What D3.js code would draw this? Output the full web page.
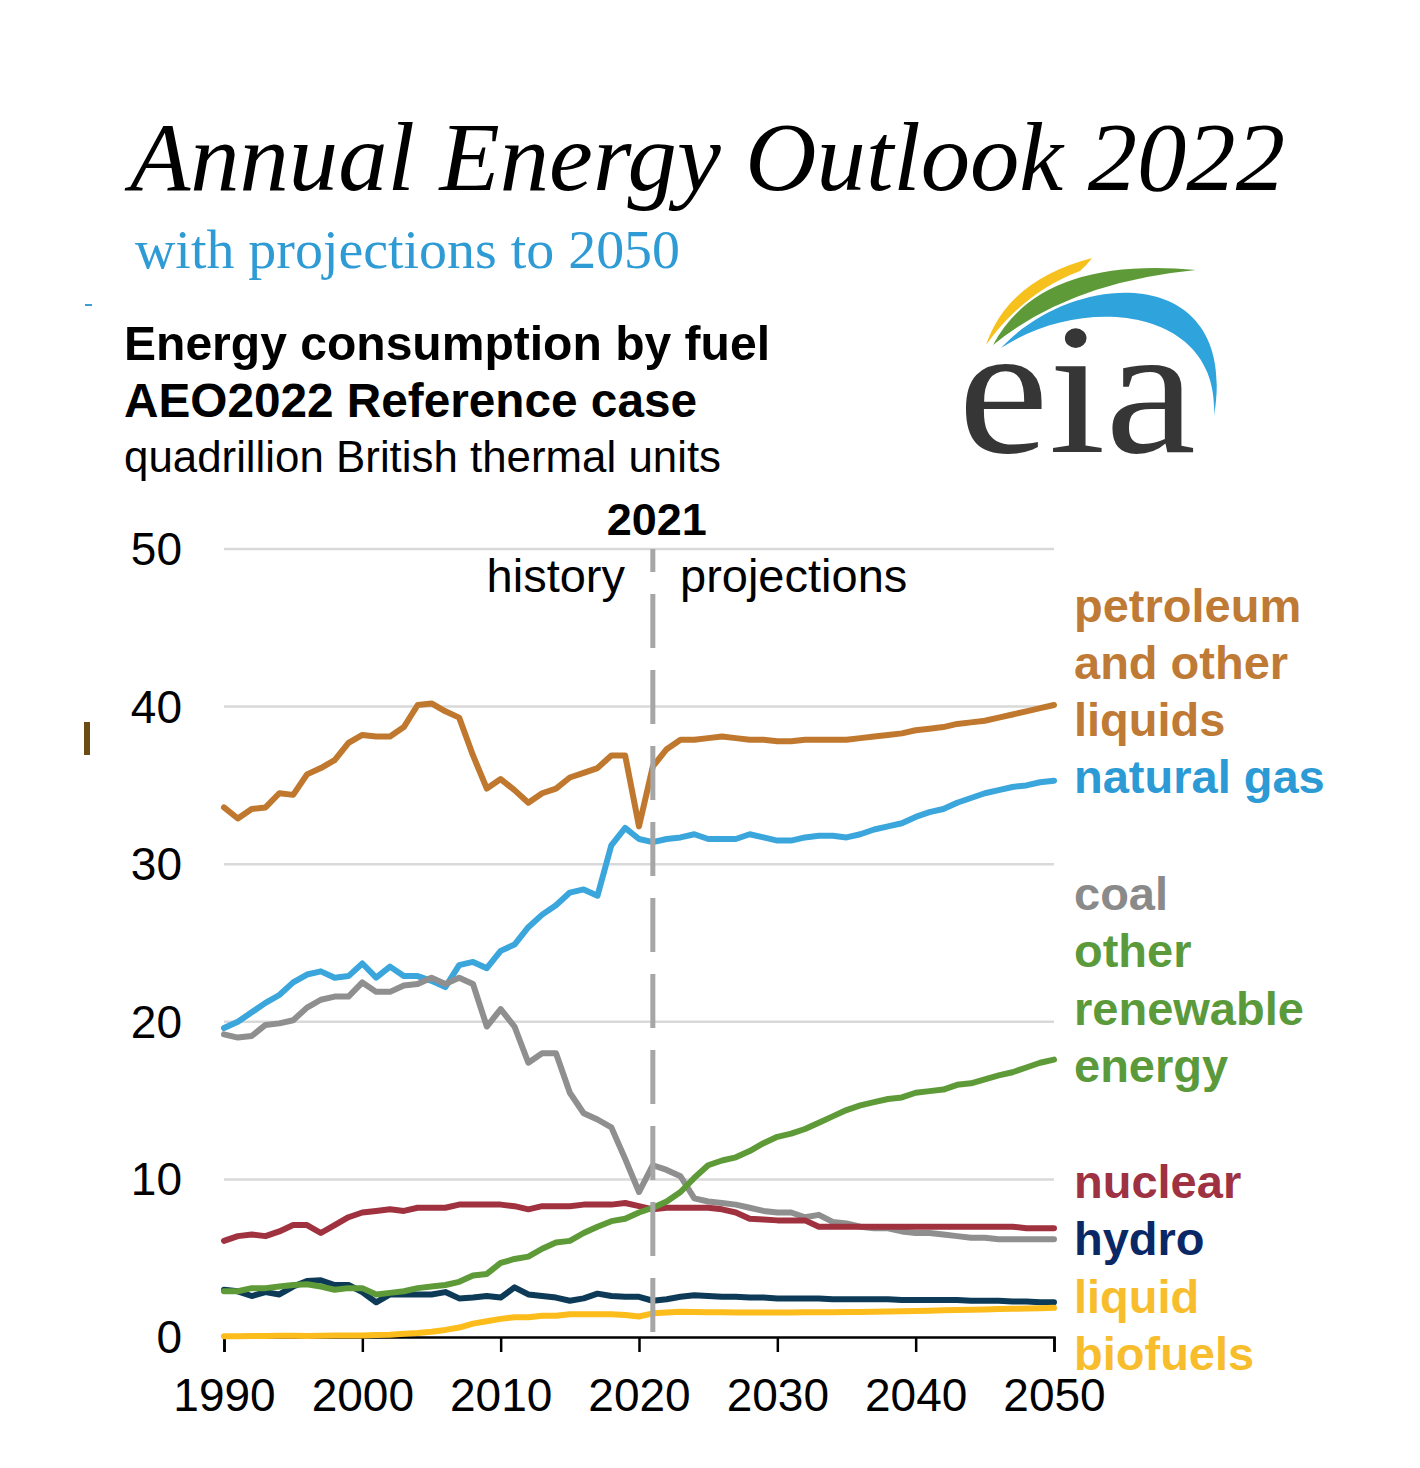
<!DOCTYPE html>
<html>
<head>
<meta charset="utf-8">
<script src="https://cdn.jsdelivr.net/npm/d3@7"></script>
<style>
  html, body { margin: 0; padding: 0; background: #ffffff; }
  svg { display: block; }
</style>
</head>
<body>
<div id="chart"></div>
<script>
// ---------------- DATA ----------------
const years = d3.range(1990, 2051);
const xTicks = [1990, 2000, 2010, 2020, 2030, 2040, 2050];
const yTicks = [0, 10, 20, 30, 40, 50];
const divideYear = 2021;

const petroleum = [33.6, 32.9, 33.5, 33.6, 34.5, 34.4, 35.7, 36.1, 36.6, 37.7, 38.2, 38.1, 38.1, 38.7, 40.1, 40.2, 39.7, 39.3, 36.9, 34.8, 35.4, 34.7, 33.9, 34.5, 34.8, 35.5, 35.8, 36.1, 36.9, 36.9, 32.4, 36.2,
  37.3, 37.9, 37.9, 38.0, 38.1, 38.0, 37.9, 37.9, 37.8, 37.8, 37.9, 37.9, 37.9, 37.9, 38.0, 38.1, 38.2, 38.3, 38.5, 38.6, 38.7, 38.9, 39.0, 39.1, 39.3, 39.5, 39.7, 39.9, 40.1];
const naturalGas = [19.6, 20.0, 20.6, 21.2, 21.7, 22.5, 23.0, 23.2, 22.8, 22.9, 23.7, 22.8, 23.5, 22.9, 22.9, 22.6, 22.2, 23.6, 23.8, 23.4, 24.5, 24.9, 26.0, 26.8, 27.4, 28.2, 28.4, 28.0, 31.2, 32.3, 31.6, 31.4,
  31.6, 31.7, 31.9, 31.6, 31.6, 31.6, 31.9, 31.7, 31.5, 31.5, 31.7, 31.8, 31.8, 31.7, 31.9, 32.2, 32.4, 32.6, 33.0, 33.3, 33.5, 33.9, 34.2, 34.5, 34.7, 34.9, 35.0, 35.2, 35.3];
const coal = [19.2, 19.0, 19.1, 19.8, 19.9, 20.1, 20.9, 21.4, 21.6, 21.6, 22.5, 21.9, 21.9, 22.3, 22.4, 22.8, 22.4, 22.8, 22.4, 19.7, 20.8, 19.7, 17.4, 18.0, 18.0, 15.5, 14.2, 13.8, 13.3, 11.3, 9.2, 10.9,
  10.6, 10.2, 8.8, 8.6, 8.5, 8.4, 8.2, 8.0, 7.9, 7.9, 7.6, 7.75, 7.3, 7.2, 7.0, 6.9, 6.9, 6.7, 6.6, 6.6, 6.5, 6.4, 6.3, 6.3, 6.2, 6.2, 6.2, 6.2, 6.2];
const otherRenewable = [2.9, 2.9, 3.1, 3.1, 3.2, 3.3, 3.35, 3.2, 3.0, 3.1, 3.1, 2.7, 2.8, 2.9, 3.1, 3.2, 3.3, 3.5, 3.9, 4.0, 4.7, 4.95, 5.1, 5.6, 6.0, 6.1, 6.6, 7.0, 7.35, 7.5, 7.9, 8.2,
  8.6, 9.2, 10.1, 10.9, 11.2, 11.4, 11.8, 12.3, 12.7, 12.9, 13.2, 13.6, 14.0, 14.4, 14.7, 14.9, 15.1, 15.2, 15.5, 15.6, 15.7, 16.0, 16.1, 16.35, 16.6, 16.8, 17.1, 17.4, 17.6];
const nuclear = [6.1, 6.4, 6.5, 6.4, 6.7, 7.1, 7.1, 6.6, 7.1, 7.6, 7.9, 8.0, 8.1, 8.0, 8.2, 8.2, 8.2, 8.4, 8.4, 8.4, 8.4, 8.3, 8.1, 8.3, 8.3, 8.3, 8.4, 8.4, 8.4, 8.5, 8.3, 8.1,
  8.2, 8.2, 8.2, 8.2, 8.1, 7.9, 7.5, 7.45, 7.4, 7.4, 7.4, 7.0, 7.0, 7.0, 7.0, 7.0, 7.0, 7.0, 7.0, 7.0, 7.0, 7.0, 7.0, 7.0, 7.0, 7.0, 6.9, 6.9, 6.9];
const hydro = [3.0, 2.9, 2.6, 2.85, 2.7, 3.2, 3.55, 3.6, 3.3, 3.3, 2.85, 2.2, 2.7, 2.7, 2.7, 2.7, 2.85, 2.45, 2.5, 2.6, 2.5, 3.15, 2.7, 2.6, 2.5, 2.3, 2.45, 2.75, 2.6, 2.55, 2.55, 2.3,
  2.4, 2.55, 2.65, 2.6, 2.55, 2.55, 2.5, 2.5, 2.45, 2.45, 2.45, 2.45, 2.4, 2.4, 2.4, 2.4, 2.4, 2.35, 2.35, 2.35, 2.35, 2.35, 2.3, 2.3, 2.3, 2.25, 2.25, 2.2, 2.2];
const liquidBiofuels = [0.05, 0.05, 0.06, 0.07, 0.08, 0.08, 0.07, 0.08, 0.09, 0.1, 0.1, 0.12, 0.15, 0.2, 0.25, 0.33, 0.45, 0.6, 0.85, 1.0, 1.15, 1.25, 1.25, 1.35, 1.35, 1.45, 1.45, 1.45, 1.45, 1.4, 1.3, 1.5,
  1.55, 1.6, 1.58, 1.57, 1.57, 1.56, 1.56, 1.56, 1.56, 1.56, 1.57, 1.57, 1.57, 1.58, 1.59, 1.6, 1.62, 1.63, 1.65, 1.67, 1.69, 1.71, 1.73, 1.75, 1.77, 1.79, 1.81, 1.83, 1.85];

const seriesNames = ["petroleum", "naturalGas", "coal", "nuclear", "hydro", "otherRenewable", "liquidBiofuels"];
const seriesValues = { petroleum, naturalGas, coal, nuclear, hydro, otherRenewable, liquidBiofuels };
const lineColors = {
  petroleum: "#c0782f", naturalGas: "#3aa6dc", coal: "#8f8f8f", nuclear: "#a0323f",
  hydro: "#0d3b57", otherRenewable: "#5e9b38", liquidBiofuels: "#fbbc1c"
};

const labelLines = [
  { text: "petroleum", color: "#bf7a35", y: 622 },
  { text: "and other", color: "#bf7a35", y: 679 },
  { text: "liquids", color: "#bf7a35", y: 736 },
  { text: "natural gas", color: "#2b9ad5", y: 793 },
  { text: "coal", color: "#8a8a8a", y: 910 },
  { text: "other", color: "#5b9a3b", y: 967 },
  { text: "renewable", color: "#5b9a3b", y: 1025 },
  { text: "energy", color: "#5b9a3b", y: 1082 },
  { text: "nuclear", color: "#9e3242", y: 1198 },
  { text: "hydro", color: "#0b2866", y: 1255 },
  { text: "liquid", color: "#f8bd2c", y: 1313 },
  { text: "biofuels", color: "#f8bd2c", y: 1370 }
];

// ---------------- CHART ----------------
const W = 1420, H = 1468;
const svg = d3.select("#chart").append("svg").attr("width", W).attr("height", H);
svg.append("rect").attr("width", W).attr("height", H).attr("fill", "#fff");

const x = d3.scaleLinear().domain([1990, 2050]).range([224, 1054]);
const y = d3.scaleLinear().domain([0, 50]).range([1337, 549]);

const sans = "Liberation Sans, Arial, Helvetica, sans-serif";
const serif = "Liberation Serif, Times New Roman, serif";

// Titles
svg.append("text").attr("x", 130).attr("y", 190)
  .attr("font-family", serif).attr("font-style", "italic").attr("font-size", 98)
  .attr("textLength", 1155).attr("lengthAdjust", "spacingAndGlyphs")
  .attr("fill", "#000").text("Annual Energy Outlook 2022");
svg.append("text").attr("x", 135).attr("y", 268)
  .attr("font-family", serif).attr("font-size", 55)
  .attr("textLength", 545).attr("lengthAdjust", "spacingAndGlyphs")
  .attr("fill", "#2f9bd5").text("with projections to 2050");

svg.append("text").attr("x", 124).attr("y", 360)
  .attr("font-family", sans).attr("font-weight", "bold").attr("font-size", 48)
  .attr("textLength", 646).attr("lengthAdjust", "spacingAndGlyphs")
  .attr("fill", "#000").text("Energy consumption by fuel");
svg.append("text").attr("x", 124).attr("y", 417)
  .attr("font-family", sans).attr("font-weight", "bold").attr("font-size", 48)
  .attr("textLength", 573).attr("lengthAdjust", "spacingAndGlyphs")
  .attr("fill", "#000").text("AEO2022 Reference case");
svg.append("text").attr("x", 124).attr("y", 472)
  .attr("font-family", sans).attr("font-size", 44)
  .attr("textLength", 597).attr("lengthAdjust", "spacingAndGlyphs")
  .attr("fill", "#000").text("quadrillion British thermal units");

// small stray marks
svg.append("rect").attr("x", 85).attr("y", 304).attr("width", 7).attr("height", 2).attr("fill", "#3a9fd8");
svg.append("rect").attr("x", 84).attr("y", 722).attr("width", 6).attr("height", 33).attr("fill", "#6b4c14");

// EIA logo
const logo = svg.append("g");
logo.append("path").attr("fill", "#f6c11d")
  .attr("d", "M986,345 Q1008,280 1092,258 Q1086,266 1080,271 Q1024,292 986,345 Z");
logo.append("path").attr("fill", "#5e9b38")
  .attr("d", "M993,345 Q1040,256 1196,270 Q1070,282 993,345 Z");
logo.append("path").attr("fill", "#2ea3dc")
  .attr("d", "M1001,348 C1075,268 1240,262 1214,416 C1220,308 1085,293 1001,348 Z");
logo.append("text").attr("x", 958).attr("y", 452)
  .attr("font-family", serif).attr("font-size", 186)
  .attr("textLength", 238).attr("lengthAdjust", "spacingAndGlyphs")
  .attr("fill", "#363636").text("eia");

// Gridlines
svg.append("g").selectAll("line").data(yTicks.filter(d => d > 0)).join("line")
  .attr("x1", x(1990)).attr("x2", x(2050))
  .attr("y1", d => y(d)).attr("y2", d => y(d))
  .attr("stroke", "#d9d9d9").attr("stroke-width", 2.5);

// Y labels
svg.append("g").selectAll("text").data(yTicks).join("text")
  .attr("x", 182).attr("y", d => y(d) + 16)
  .attr("text-anchor", "end").attr("font-family", sans).attr("font-size", 46)
  .attr("fill", "#000").text(d => d);

// X axis
const xAxis = d3.axisBottom(x).tickValues(xTicks).tickFormat(d3.format("d")).tickSize(15).tickPadding(26);
const gx = svg.append("g").attr("transform", `translate(0,${y(0)})`).call(xAxis);
gx.select(".domain").attr("stroke", "#000").attr("stroke-width", 2.5);
gx.selectAll(".tick line").attr("stroke", "#000").attr("stroke-width", 2.5);
gx.selectAll(".tick text").attr("font-family", sans).attr("font-size", 46).attr("fill", "#000");

// Lines
const line = d3.line().x((d, i) => x(years[i])).y(d => y(d));
svg.append("g").selectAll("path").data(seriesNames).join("path")
  .attr("d", k => line(seriesValues[k]))
  .attr("fill", "none").attr("stroke", k => lineColors[k])
  .attr("stroke-width", 6).attr("stroke-linejoin", "round").attr("stroke-linecap", "round");

// Divider
svg.append("line").attr("x1", x(divideYear)).attr("x2", x(divideYear))
  .attr("y1", y(50)).attr("y2", y(0))
  .attr("stroke", "#a6a6a6").attr("stroke-width", 5)
  .attr("stroke-dasharray", "54,22").attr("stroke-dashoffset", 31);

svg.append("text").attr("x", x(divideYear) + 4).attr("y", 535)
  .attr("text-anchor", "middle").attr("font-family", sans).attr("font-weight", "bold").attr("font-size", 45)
  .attr("fill", "#000").text(String(divideYear));
svg.append("text").attr("x", 625).attr("y", 592)
  .attr("text-anchor", "end").attr("font-family", sans).attr("font-size", 47)
  .attr("fill", "#000").text("history");
svg.append("text").attr("x", 680).attr("y", 592)
  .attr("font-family", sans).attr("font-size", 47)
  .attr("fill", "#000").text("projections");

// Right labels
svg.append("g").selectAll("text").data(labelLines).join("text")
  .attr("x", 1074).attr("y", d => d.y)
  .attr("font-family", sans).attr("font-weight", "bold").attr("font-size", 47)
  .attr("fill", d => d.color).text(d => d.text);
</script>
</body>
</html>
